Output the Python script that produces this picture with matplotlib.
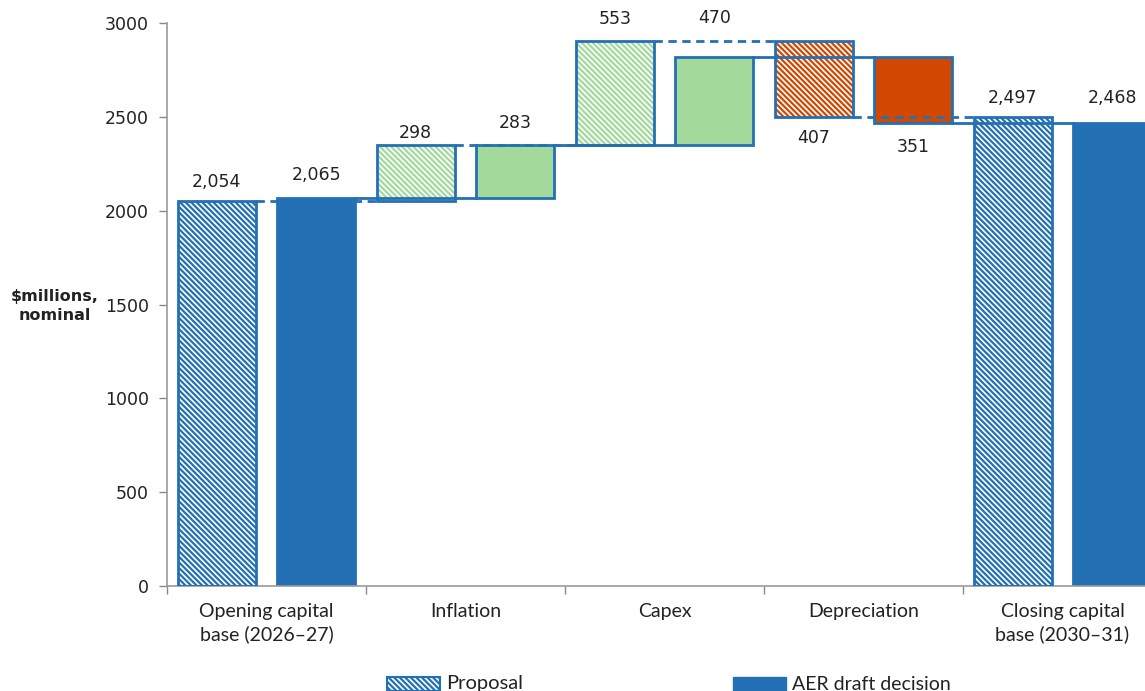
import matplotlib.pyplot as plt
import numpy as np
from matplotlib.patches import Rectangle

# Regulatory asset base roll-forward, $m nominal
categories = ["Opening capital\nbase (2026\u201327)", "Inflation", "Capex",
              "Depreciation", "Closing capital\nbase (2030\u201331)"]
proposal = [2054, 298, 553, -407, 2497]
aer = [2065, 283, 470, -351, 2468]
labels_prop = ["2,054", "298", "553", "407", "2,497"]
labels_aer = ["2,065", "283", "470", "351", "2,468"]

BLUE = "#2370b4"
GREEN = "#a3d99b"
ORANGE = "#d24800"
colours = [BLUE, GREEN, GREEN, ORANGE, BLUE]

# label offsets from the bar end, in points
lab_off_prop = [13, 8, 16, -15, 14]
lab_off_aer = [17, 16, 28, -17, 18]

HATCH = "\\" * 6
plt.rcParams["hatch.linewidth"] = 1.6


def waterfall(values):
    # bottoms and tops of each bar; first and last are totals from zero
    bottoms, tops = [], []
    running = 0
    for i, v in enumerate(values):
        if i == 0 or i == len(values) - 1:
            b, t = 0, v
            running = v
        else:
            b, t = running, running + v
            running = t
        bottoms.append(min(b, t))
        tops.append(max(b, t))
    return np.array(bottoms), np.array(tops)


def ends(values, bottoms, tops):
    return [bottoms[i] if v < 0 else tops[i] for i, v in enumerate(values)]


fig = plt.figure(figsize=(11.45, 6.91), dpi=100)
ax = fig.add_axes([167 / 1145, 105 / 691, 995 / 1145, 563 / 691])

x = np.arange(len(categories))
width = 0.39
off = 0.25

pb, pt = waterfall(proposal)
ab, at = waterfall(aer)
xp = x - off
xa = x + off

# proposal bars: hatched
for i in range(len(x)):
    ax.bar(xp[i], pt[i] - pb[i], width, bottom=pb[i], facecolor="white",
           edgecolor=colours[i], hatch=HATCH, linewidth=0, zorder=2)
    ax.bar(xp[i], pt[i] - pb[i], width, bottom=pb[i], fill=False,
           edgecolor=BLUE, linewidth=2, zorder=3)

# AER draft decision bars: solid
for i in range(len(x)):
    edge = BLUE if i in (1, 2, 3) else colours[i]
    ax.bar(xa[i], at[i] - ab[i], width, bottom=ab[i], color=colours[i],
           edgecolor=edge, linewidth=2, zorder=2)

# connectors between consecutive bars
pe = ends(proposal, pb, pt)
ae = ends(aer, ab, at)
for i in range(len(x) - 1):
    ax.plot([xp[i] + width / 2, xp[i + 1] - width / 2], [pe[i], pe[i]],
            color=BLUE, lw=2, ls=(0, (3, 2)), zorder=4)
    ax.plot([xa[i] + width / 2, xa[i + 1] - width / 2], [ae[i], ae[i]],
            color=BLUE, lw=2, zorder=4)

# value labels
for xs, vals, labs, offs in [(xp, proposal, labels_prop, lab_off_prop),
                             (xa, aer, labels_aer, lab_off_aer)]:
    b, t = waterfall(vals)
    for i in range(len(x)):
        y = b[i] if vals[i] < 0 else t[i]
        ax.annotate(labs[i], (xs[i], y), xytext=(0, offs[i]),
                    textcoords="offset points", ha="center", va="center",
                    fontsize=12.5, color="#222222", annotation_clip=False)

ax.set_xlim(-0.5, len(x) - 0.5)
ax.set_ylim(0, 3000)
ax.set_yticks(np.arange(0, 3001, 500))
ax.tick_params(axis="y", labelsize=12.5, colors="#222222", length=6,
               color="#888888", width=1, pad=7)
ax.set_xticks(np.arange(-0.5, len(x) - 0.4, 1))
ax.set_xticks(x, minor=True)
ax.set_xticklabels([])
ax.set_xticklabels(categories, minor=True, fontsize=14, family="Lato",
                   color="#222222", linespacing=1.35)
ax.tick_params(axis="x", which="major", length=6, color="#888888", width=1)
ax.tick_params(axis="x", which="minor", length=0, pad=12)

for s in ["top", "right"]:
    ax.spines[s].set_visible(False)
for s in ["left", "bottom"]:
    ax.spines[s].set_color("#999999")
    ax.spines[s].set_linewidth(1.2)

fig.text(55 / 1145, 1 - 306 / 691, "$millions,\nnominal", ha="center",
         va="center", fontsize=11.5, fontweight="bold", color="#222222",
         linespacing=1.4)

# legend along the bottom edge
lx = fig.add_axes([0, 0, 1, 1], zorder=-1)
lx.set_xlim(0, 1145)
lx.set_ylim(691, 0)
lx.axis("off")
lx.add_patch(Rectangle((387, 677), 53, 14, facecolor="white", edgecolor=BLUE,
                       hatch=HATCH, linewidth=0))
lx.add_patch(Rectangle((387, 677), 53, 14, fill=False, edgecolor=BLUE, lw=1.5))
lx.text(446, 684, "Proposal", va="center", fontsize=14.5, family="Lato",
        color="#222222")
lx.add_patch(Rectangle((733, 677), 53, 14, facecolor=BLUE, edgecolor=BLUE))
lx.text(792, 684, "AER draft decision", va="center", fontsize=14,
        family="Lato", color="#222222")

fig.savefig("out.png", dpi=100)
